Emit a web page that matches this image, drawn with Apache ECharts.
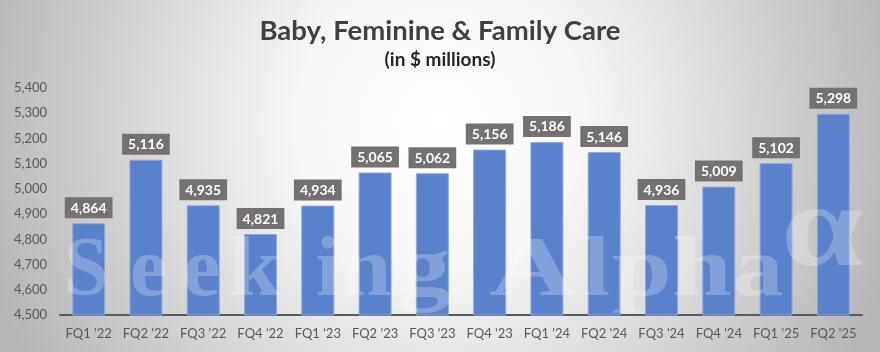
<!DOCTYPE html>
<html>
<head>
<meta charset="utf-8">
<script src="https://cdn.jsdelivr.net/npm/echarts@6/dist/echarts.min.js"></script>
<style>html,body{margin:0;padding:0;}#c{width:880px;height:352px;}</style>
</head>
<body>
<div id="c"></div>
<script>
const categories = ["FQ1 '22","FQ2 '22","FQ3 '22","FQ4 '22","FQ1 '23","FQ2 '23","FQ3 '23","FQ4 '23","FQ1 '24","FQ2 '24","FQ3 '24","FQ4 '24","FQ1 '25","FQ2 '25"];
const values = [4864, 5116, 4935, 4821, 4934, 5065, 5062, 5156, 5186, 5146, 4936, 5009, 5102, 5298];
const yMin = 4500, yMax = 5400, yStep = 100;
const titleText = 'Baby, Feminine & Family Care';
const subtitleText = '(in $ millions)';

const fmt = v => Number(v).toLocaleString('en-US');
const FONT = 'Lato, "Open Sans", sans-serif';

// watermark glyphs (decoration only)
const wm = [
  ['S',64,0.95],['e',130,1.0],['e',183,1.0],['k',229,1.1],['i',316,1.0],['n',340,1.1],['g',396,1.3],
  ['A',489,1.45],['l',583,1.15],['p',612,1.28],['h',672,1.28],['a',733,1.2]
];
const WMFILL = 'rgba(255,255,255,0.25)';
const WMFONT = 'bold 84px "Liberation Serif", "DejaVu Serif", serif';
const wmEls = wm.map(([ch,x,sx]) => ({
  type:'text', x:x, y:231, z:100, silent:true, scaleX:sx,
  style:{text:ch, font:WMFONT, fill:WMFILL}
}));
wmEls.push({type:'text', x:781, y:176, z:100, silent:true, scaleX:1.25,
  style:{text:'α', font:'bold 118px "Liberation Serif", "DejaVu Serif", serif', fill:WMFILL}});

const chart = echarts.init(document.getElementById('c'), null, {renderer:'canvas'});
chart.setOption({
  animation:false,
  backgroundColor:{type:'radial', x:0.5, y:0.35, r:1.35,
    colorStops:[{offset:0,color:'#ffffff'},{offset:0.3,color:'#f7f7f7'},{offset:1,color:'#b5b5b5'}]},
  title:[
    {text:titleText, left:'center', top:12, textStyle:{fontFamily:FONT, fontWeight:'bold', fontSize:27.5, color:'#404040'}},
    {text:subtitleText, left:'center', top:45, textStyle:{fontFamily:FONT, fontWeight:'bold', fontSize:19, color:'#262626'}}
  ],
  grid:{left:60, right:18, top:88, bottom:37},
  xAxis:{type:'category', data:categories,
    axisLine:{lineStyle:{color:'#595959', width:2}}, axisTick:{show:false},
    axisLabel:{interval:0, fontFamily:FONT, fontSize:13, color:'#595959', margin:12}},
  yAxis:{type:'value', min:yMin, max:yMax, interval:yStep,
    axisLine:{show:false}, axisTick:{show:false}, splitLine:{show:false},
    axisLabel:{fontFamily:FONT, fontSize:13, color:'#595959', margin:13, formatter:fmt}},
  series:[{type:'bar', data:values, barWidth:33,
    itemStyle:{color:'#5a82cc', borderColor:'#8eaadb', borderWidth:1},
    label:{show:true, position:'top', distance:5, formatter:p=>fmt(p.value),
      fontFamily:FONT, fontWeight:'bold', fontSize:14, color:'#ffffff',
      backgroundColor:'#767171', padding:[4,6,3,6]}
  }],
  graphic:wmEls
});
</script>
</body>
</html>
